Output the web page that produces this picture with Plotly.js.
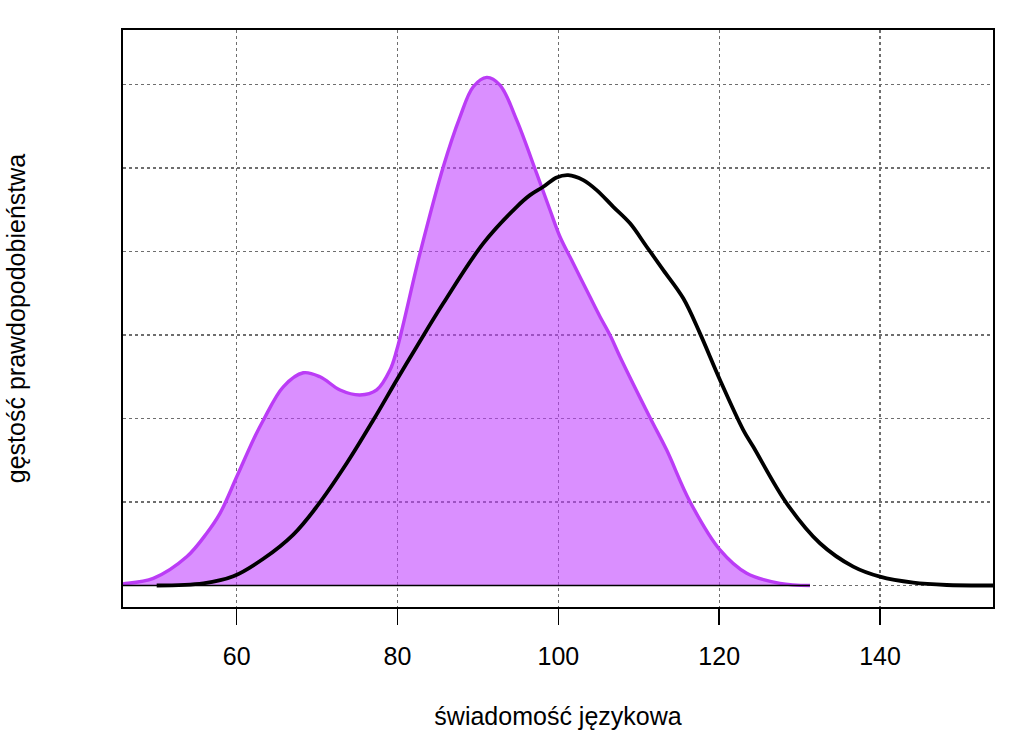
<!DOCTYPE html>
<html>
<head>
<meta charset="utf-8">
<script src="https://cdn.plot.ly/plotly-3.0.1.min.js"></script>
<style>html,body{margin:0;padding:0;background:#fff;}#chart{width:1024px;height:732px;}</style>
</head>
<body>
<div id="chart"></div>
<script>
// Density of the magenta group (x = świadomość językowa, y = density)
const magentaX = [44.5, 45.86, 49.63, 53.78, 56.27, 57.92, 60.0, 62.06, 63.31, 65.79, 68.28, 70.36, 72.85, 75.33, 77.41, 79.06, 79.90, 82.79, 85.69, 87.77, 89.42, 91.09, 92.74, 94.82, 97.30, 98.96, 100.20, 101.86, 103.93, 105.18, 106.42, 107.66, 111.39, 113.47, 116.37, 120.10, 123.42, 127.56, 131.29];
const magentaY = [0.00005, 0.0001, 0.00043, 0.00172, 0.00313, 0.00432, 0.00651, 0.00872, 0.00990, 0.01190, 0.01274, 0.01250, 0.01171, 0.01141, 0.01171, 0.01290, 0.01410, 0.01989, 0.02508, 0.02807, 0.02987, 0.03043, 0.02997, 0.02787, 0.02468, 0.02249, 0.02089, 0.01929, 0.01729, 0.01610, 0.01500, 0.01370, 0.01006, 0.00811, 0.00502, 0.00213, 0.00073, 0.00013, 0.0];
// Density of the black group
const blackX = [50.05, 55.85, 59.58, 63.31, 67.04, 69.95, 73.68, 76.99, 79.90, 82.38, 85.69, 90.66, 94.82, 96.47, 98.13, 99.79, 101.23, 103.10, 104.76, 106.83, 108.91, 110.98, 113.05, 115.53, 117.61, 120.10, 123.00, 124.24, 128.39, 132.53, 136.67, 139.99, 144.13, 148.29, 153.88, 156.0];
const blackY = [0.0, 0.00013, 0.00055, 0.00160, 0.00305, 0.00472, 0.00732, 0.00991, 0.01231, 0.01430, 0.01690, 0.02049, 0.02268, 0.02338, 0.02388, 0.02444, 0.02458, 0.02428, 0.02368, 0.02268, 0.02169, 0.02029, 0.01889, 0.01720, 0.01510, 0.01231, 0.00931, 0.00831, 0.00492, 0.00253, 0.00113, 0.00053, 0.00017, 0.00003, 0.0, 0.0];
const xTicks = [60, 80, 100, 120, 140];
const xTickLabels = ['60', '80', '100', '120', '140'];
const yGrid = [0, 0.005, 0.01, 0.015, 0.02, 0.025, 0.03];

const font = 'Liberation Sans, Arial, Helvetica, sans-serif';

const traces = [
  {
    x: magentaX, y: magentaY, type: 'scatter', mode: 'lines',
    fill: 'tozeroy', fillcolor: 'rgba(191,62,255,0.58)',
    line: {color: '#BB3CF6', width: 3.4, shape: 'spline', smoothing: 1},
    hoverinfo: 'skip'
  },
  {
    x: [magentaX[0], magentaX[magentaX.length - 1]], y: [0, 0], type: 'scatter', mode: 'lines',
    line: {color: '#000', width: 1.6}, hoverinfo: 'skip'
  },
  {
    x: blackX, y: blackY, type: 'scatter', mode: 'lines',
    line: {color: '#000', width: 3.8, shape: 'spline', smoothing: 1},
    hoverinfo: 'skip'
  }
];

const layout = {
  width: 1024, height: 732,
  margin: {l: 123, r: 31, t: 30, b: 125},
  paper_bgcolor: '#fff', plot_bgcolor: '#fff',
  showlegend: false,
  font: {family: font, size: 25, color: '#000'},
  xaxis: {
    range: [45.86, 154.05],
    tickmode: 'array', tickvals: xTicks, ticktext: xTickLabels,
    ticks: 'outside', ticklen: 16, tickwidth: 1.5, tickcolor: '#000',
    ticklabelstandoff: 10,
    tickfont: {family: font, size: 25, color: '#000'},
    showline: true, linecolor: '#000', linewidth: 2, mirror: true,
    showgrid: true, gridcolor: '#6e6e6e', gridwidth: 1.3, griddash: '3px,3px',
    zeroline: false,
    title: {text: 'świadomość językowa', font: {family: font, size: 25, color: '#000'}, standoff: 38}
  },
  yaxis: {
    range: [-0.001287, 0.03327],
    tickmode: 'array', tickvals: yGrid, ticktext: yGrid.map(() => ''),
    ticks: '', showticklabels: false,
    showline: true, linecolor: '#000', linewidth: 2, mirror: true,
    showgrid: true, gridcolor: '#6e6e6e', gridwidth: 1.3, griddash: '3px,3px',
    zeroline: false,
    title: {text: 'gęstość prawdopodobieństwa', font: {family: font, size: 25, color: '#000'}, standoff: 88}
  }
};

Plotly.newPlot('chart', traces, layout, {staticPlot: true, displayModeBar: false});
</script>
</body>
</html>
